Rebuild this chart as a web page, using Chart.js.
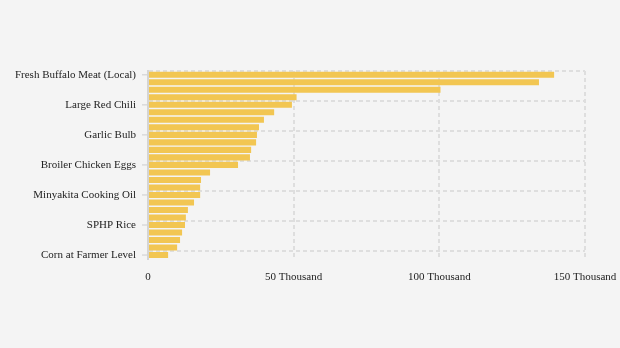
<!DOCTYPE html>
<html>
<head>
<meta charset="utf-8">
<script src="https://cdn.jsdelivr.net/npm/chart.js@4.4.1/dist/chart.umd.min.js"></script>
<style>
  html, body { margin: 0; padding: 0; background: #f4f4f4; }
  #wrap { width: 620px; height: 348px; }
</style>
</head>
<body>
<div id="wrap"><canvas id="chart"></canvas></div>
<script>
// commodity prices, sorted high to low (Rp)
const commodities = [
    'Fresh Buffalo Meat (Local)', 'Fresh Beef Meat (Local)', 'Frozen Buffalo Meat (Imported)', 'Red Bird\'s Eye Chili',
    'Large Red Chili', 'Shallots', 'Curly Red Chili', 'Broiler Chicken Meat',
    'Garlic Bulb', 'Green Bird\'s Eye Chili', 'Garlic (Imported)', 'Live Broiler Chicken',
    'Broiler Chicken Eggs', 'Eggs at Farmer Level', 'Packaged Cooking Oil', 'Granulated Sugar',
    'Minyakita Cooking Oil', 'Bulk Cooking Oil', 'Premium Rice', 'Medium Rice',
    'SPHP Rice', 'Wheat Flour', 'Imported Soybean', 'Grain at Mill Level',
    'Corn at Farmer Level'
];
const prices = [
    139400, 134200, 100400, 51000,
    49400, 43300, 39800, 38100,
    37400, 37100, 35400, 35000,
    30900, 21300, 18200, 17900,
    17900, 15800, 13700, 13000,
    12700, 11700, 11000, 10000,
    6900
];
const valueTicks = [0, 50000, 100000, 150000];

const labelEvery = 4;
const gridGray = '#dedede';

// small tick marks next to the labels that are shown
const labelTicks = {
    id: 'labelTicks',
    afterDraw(chart) {
        const y = chart.scales.y;
        const ctx = chart.ctx;
        ctx.save();
        ctx.strokeStyle = '#dadada';
        ctx.lineWidth = 1.5;
        commodities.forEach((c, i) => {
            if (i % labelEvery !== 0) return;
            const py = y.getPixelForTick(i);
            ctx.beginPath();
            ctx.moveTo(y.right - 6, py);
            ctx.lineTo(y.right - 1, py);
            ctx.stroke();
        });
        ctx.restore();
    }
};

new Chart(document.getElementById('chart'), {
    type: 'bar',
    data: {
        labels: commodities,
        datasets: [{
            data: prices,
            backgroundColor: '#f2c652',
            barPercentage: 0.85,
            categoryPercentage: 0.95
        }]
    },
    options: {
        indexAxis: 'y',
        responsive: true,
        maintainAspectRatio: false,
        animation: false,
        layout: { padding: { top: 71, right: 35, bottom: 52, left: 0 } },
        plugins: {
            legend: { display: false },
            tooltip: { enabled: false }
        },
        scales: {
            x: {
                min: valueTicks[0],
                max: valueTicks[valueTicks.length - 1],
                afterBuildTicks: scale => { scale.ticks = valueTicks.map(v => ({ value: v })); },
                afterFit: scale => { scale.paddingRight = 0; },
                grid: { color: gridGray, lineWidth: 2, drawTicks: false },
                border: { display: false, dash: [4, 3] },
                ticks: {
                    padding: 12,
                    color: '#222',
                    font: { family: 'Liberation Serif', size: 11 },
                    callback: v => v === 0 ? '0' : (v / 1000) + ' Thousand'
                }
            },
            y: {
                afterFit: scale => { scale.width = 148; },
                grid: {
                    offset: true,
                    drawTicks: false,
                    lineWidth: 2,
                    color: ctx => (ctx.index !== undefined && ctx.index % labelEvery === 0) ? gridGray : 'rgba(0,0,0,0)'
                },
                border: { display: true, color: '#d4d4d4', width: 2, dash: [4, 3] },
                ticks: {
                    autoSkip: false,
                    padding: 12,
                    color: '#222',
                    font: { family: 'Liberation Serif', size: 11 },
                    callback: (v, i) => i % labelEvery === 0 ? commodities[i] : ''
                }
            }
        }
    },
    plugins: [labelTicks]
});
</script>
</body>
</html>
